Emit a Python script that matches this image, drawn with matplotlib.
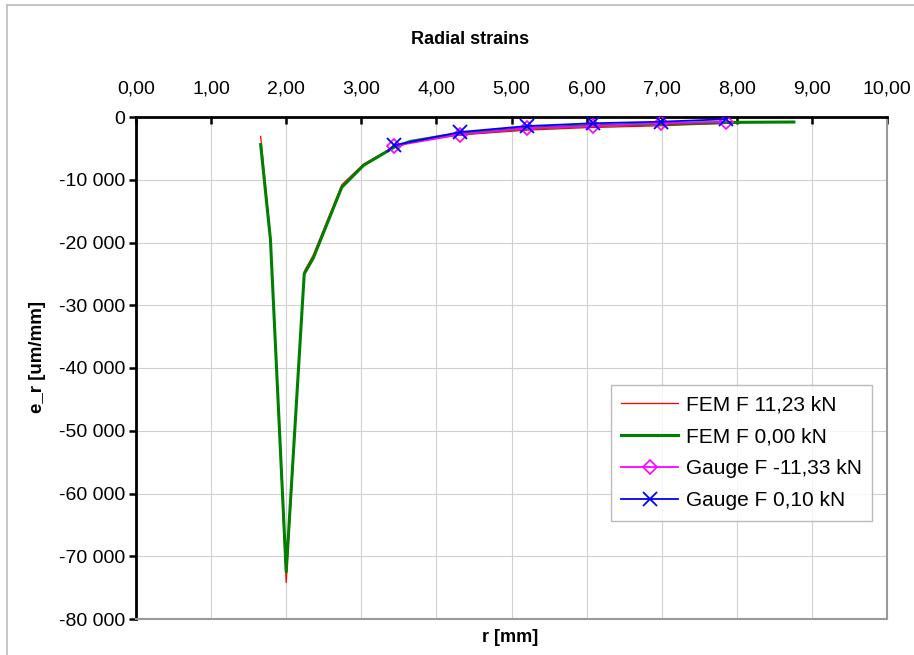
import matplotlib.pyplot as plt
from matplotlib.ticker import FuncFormatter, MultipleLocator
from matplotlib.lines import Line2D

# FEM results, F = 11,23 kN (red) and F = 0,00 kN (green)
r_fem_load = [1.66, 1.79, 2.00, 2.24, 2.36, 2.74, 3.03, 3.44, 3.65, 4.05, 4.50, 5.20, 6.00, 7.00, 7.86, 8.20]
e_fem_load = [-3100, -19000, -74200, -24600, -22000, -10800, -7500, -4700, -3900, -3200, -2700, -2100,
              -1700, -1400, -1000, -850]
r_fem_zero = [1.66, 1.79, 2.00, 2.24, 2.36, 2.74, 3.03, 3.44, 3.65, 4.05, 4.50, 5.20, 6.00, 7.00, 8.00, 8.76]
e_fem_zero = [-4400, -19500, -72500, -25000, -22500, -11200, -7700, -4800, -3900, -3100, -2500, -1800,
              -1400, -1100, -850, -800]

# strain gauge readings
r_gauge = [3.44, 4.31, 5.20, 6.08, 6.99, 7.86]
e_gauge_load = [-4600, -2800, -1800, -1450, -1000, -750]
e_gauge_zero = [-4500, -2400, -1450, -1000, -750, -350]

FONT = "Liberation Sans"
plt.rcParams["font.family"] = FONT

fig = plt.figure(figsize=(9.14, 6.55), dpi=100)
ax = fig.add_axes([136 / 914, 1 - 619 / 655, (887 - 136) / 914, (619 - 117) / 655])

ax.plot(r_fem_load, e_fem_load, color="#FF0000", lw=0.9, label="FEM F 11,23 kN", zorder=3)
ax.plot(r_fem_zero, e_fem_zero, color="#008000", lw=2.2, label="FEM F 0,00 kN", zorder=4)
ax.plot(r_gauge, e_gauge_load, color="#FF00FF", lw=1.3, marker="D", ms=7, mfc="none", mew=1.2,
        label="Gauge F -11,33 kN", zorder=5)
ax.plot(r_gauge, e_gauge_zero, color="#0000FF", lw=1.3, marker="x", ms=10, mew=1.3,
        label="Gauge F 0,10 kN", zorder=6)

ax.set_xlim(0, 10)
ax.set_ylim(-80000, 0)
ax.xaxis.set_major_locator(MultipleLocator(1))
ax.yaxis.set_major_locator(MultipleLocator(10000))
ax.xaxis.set_major_formatter(FuncFormatter(lambda v, p: f"{v:.2f}".replace(".", ",")))
ax.yaxis.set_major_formatter(FuncFormatter(lambda v, p: f"{v:,.0f}".replace(",", " ")))
ax.xaxis.tick_top()
ax.tick_params(axis="x", direction="in", length=5, width=1.8, labelsize=14, pad=14, top=True, bottom=False)
ax.tick_params(axis="y", direction="out", length=5, width=1.8, labelsize=14, pad=3)

ax.grid(True, color="#D0D0D0", lw=0.8)
ax.set_axisbelow(True)
ax.spines["top"].set_linewidth(2)
ax.spines["left"].set_linewidth(2)
for side in ("right", "bottom"):
    ax.spines[side].set_color("#999999")
    ax.spines[side].set_linewidth(1.5)

fig.text(470 / 914, 1 - 40 / 655, "Radial strains", ha="center", va="center",
         fontsize=13, fontweight="bold")
fig.text(510 / 914, 1 - 638 / 655, "r [mm]", ha="center", va="center",
         fontsize=13, fontweight="bold")
fig.text(37 / 914, 1 - 357 / 655, "e_r [um/mm]", ha="center", va="center", rotation=90,
         fontsize=13.5, fontweight="bold")

leg = ax.legend(loc="upper left", bbox_to_anchor=((611 - 136) / 751, (619 - 385) / 502),
                fontsize=15, frameon=True, fancybox=False, borderpad=0.5, borderaxespad=0,
                labelspacing=0.62, handlelength=2.7, handletextpad=0.4)
leg.get_frame().set_edgecolor("#AAAAAA")
leg.get_frame().set_linewidth(1)

# outer chart border (left and top edges visible)
fig.add_artist(Line2D([7 / 914, 7 / 914], [0, 1 - 5 / 655], color="#BBBBBB", lw=1.2))
fig.add_artist(Line2D([7 / 914, 1], [1 - 5 / 655, 1 - 5 / 655], color="#BBBBBB", lw=1.2))

fig.savefig("out.png", dpi=100)
